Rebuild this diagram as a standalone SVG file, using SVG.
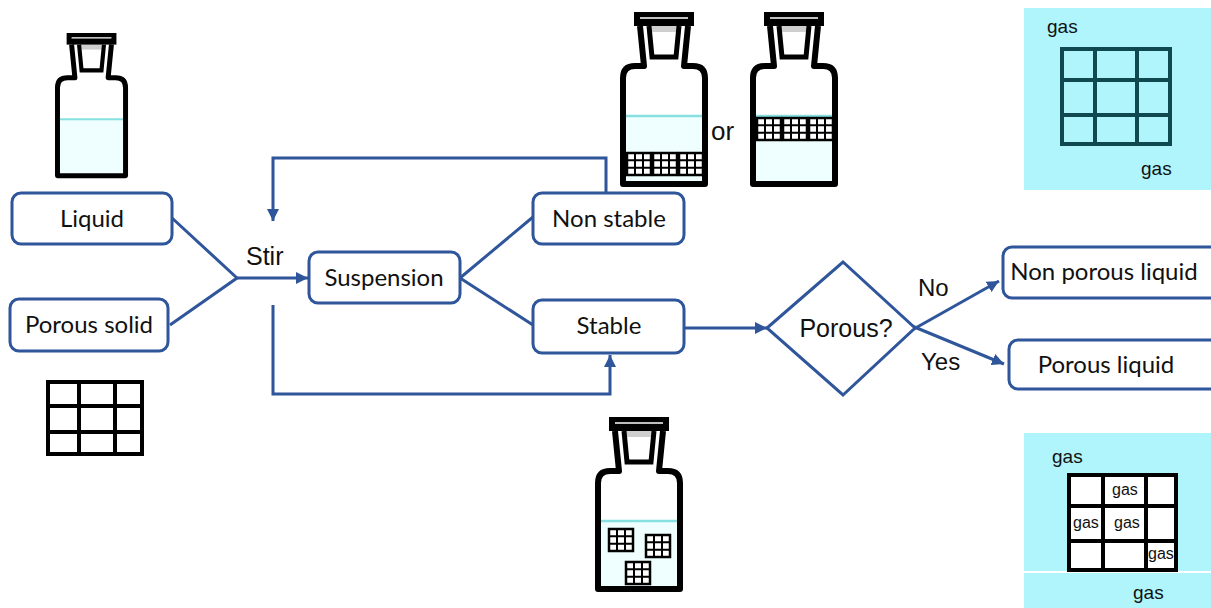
<svg xmlns="http://www.w3.org/2000/svg" xmlns:xlink="http://www.w3.org/1999/xlink" width="1211" height="608" viewBox="0 0 1211 608">
<style>
.box{fill:#fff;stroke:#2f559a;stroke-width:3}
.lbl{font-family:Lato,"Liberation Sans",sans-serif;font-size:24px;fill:#111;text-anchor:middle}
.ar{font-family:"Liberation Sans",Arial,sans-serif;font-size:24px;fill:#111}
.gas{font-family:"Liberation Sans",Arial,sans-serif;font-size:19px;fill:#111}
.gs{font-family:"Liberation Sans",Arial,sans-serif;font-size:16px;fill:#111}
.con{fill:none;stroke:#2f559a;stroke-width:3}
.bw{fill:none;stroke:#000;stroke-width:6;stroke-linejoin:round}
</style>
<defs>
<marker id="ah" viewBox="0 0 10 10" refX="10" refY="5" markerWidth="12" markerHeight="12" markerUnits="userSpaceOnUse" orient="auto">
<path d="M0,0 L10,5 L0,10 z" fill="#2f559a"/>
</marker>
<g id="sg">
<rect x="0" y="0" width="24" height="22" fill="#fff" stroke="#000" stroke-width="2.5"/>
<path d="M8,0 V22 M16,0 V22 M0,7.3 H24 M0,14.7 H24" stroke="#000" stroke-width="2" fill="none"/>
</g>
<g id="bottle">
<rect x="6" y="104" width="76" height="65" fill="#effefe"/>
<line x1="6" y1="104" x2="82" y2="104" stroke="#86e0e0" stroke-width="2.5"/>
<path class="bw" d="M20,14 L24,54 L15,54 Q3,54 3,66 L3,172 L85,172 L85,66 Q85,54 73,54 L64,54 L68,14"/>
<rect x="30" y="14" width="28" height="6" fill="#cfcfcf"/>
<path d="M29,14 L32,45 L56,45 L59,14" fill="none" stroke="#000" stroke-width="5"/>
<rect x="14" y="0" width="60" height="14" fill="#000"/>
<line x1="20" y1="6" x2="68" y2="6" stroke="#fff" stroke-width="1.5"/>
</g>
</defs>

<!-- bottles -->
<g id="bottle-liquid"><use xlink:href="#bottle" transform="translate(55,33) scale(0.83)"/></g>
<g id="bottle-settled">
<use xlink:href="#bottle" transform="translate(620,12)"/>
<use xlink:href="#sg" x="627" y="153"/>
<use xlink:href="#sg" x="653" y="153"/>
<use xlink:href="#sg" x="679" y="153"/>
</g>
<text class="ar" x="711" y="140" style="font-size:26px">or</text>
<g id="bottle-floating">
<use xlink:href="#bottle" transform="translate(750,12)"/>
<use xlink:href="#sg" x="757" y="118"/>
<use xlink:href="#sg" x="783" y="118"/>
<use xlink:href="#sg" x="809" y="118"/>
</g>
<g id="bottle-stable">
<use xlink:href="#bottle" transform="translate(595,417)"/>
<use xlink:href="#sg" x="609" y="529"/>
<use xlink:href="#sg" x="646" y="535"/>
<use xlink:href="#sg" x="626" y="562"/>
</g>

<!-- porous solid grid -->
<g id="solid-grid">
<rect x="48" y="382" width="94" height="72" fill="#fff" stroke="#000" stroke-width="4"/>
<path d="M79,382 V454 M115,382 V454 M48,406 H142 M48,432 H142" stroke="#000" stroke-width="4" fill="none"/>
</g>

<!-- panels -->
<g id="panel-nonporous">
<rect x="1024" y="8" width="187" height="182" fill="#b0f5fc"/>
<rect x="1062" y="49" width="108" height="95" fill="none" stroke="#104850" stroke-width="4"/>
<path d="M1095,49 V144 M1137,49 V144 M1062,80 H1170 M1062,115 H1170" stroke="#104850" stroke-width="4" fill="none"/>
<text class="gas" x="1047" y="33">gas</text>
<text class="gas" x="1141" y="175">gas</text>
</g>
<g id="panel-porous">
<rect x="1024" y="433" width="187" height="138" fill="#b0f5fc"/>
<rect x="1024" y="573" width="187" height="35" fill="#b0f5fc"/>
<rect x="1069" y="475" width="107" height="95" fill="#fff" stroke="#000" stroke-width="4"/>
<path d="M1103,475 V570 M1146,475 V570 M1069,506 H1176 M1069,541 H1176" stroke="#000" stroke-width="4" fill="none"/>
<text class="gas" x="1052" y="463">gas</text>
<text class="gs" x="1112" y="495">gas</text>
<text class="gs" x="1073" y="528">gas</text>
<text class="gs" x="1114" y="528">gas</text>
<text class="gs" x="1148" y="559">gas</text>
<text class="gas" x="1133" y="599">gas</text>
</g>

<!-- connectors -->
<g id="connectors">
<path class="con" d="M172,218 L237,278 L170,325"/>
<path class="con" d="M237,278 L308,278" marker-end="url(#ah)"/>
<path class="con" d="M460,278 L533,217 M460,278 L533,325"/>
<path class="con" d="M606,193 L606,158 L273,158 L273,221" marker-end="url(#ah)"/>
<path class="con" d="M273,305 L273,394 L610,394 L610,355" marker-end="url(#ah)"/>
<path class="con" d="M684,328 L767,328" marker-end="url(#ah)"/>
<path class="con" d="M912,330 L999,281" marker-end="url(#ah)"/>
<path class="con" d="M912,326 L1004,364" marker-end="url(#ah)"/>
</g>
<text class="ar" x="246" y="265" style="font-size:25px">Stir</text>
<text class="ar" x="918" y="296">No</text>
<text class="ar" x="921" y="370">Yes</text>

<!-- nodes -->
<g id="n-liquid"><rect class="box" x="12" y="193" width="160" height="51" rx="9"/><text class="lbl" x="92" y="227">Liquid</text></g>
<g id="n-solid"><rect class="box" x="10" y="299" width="158" height="52" rx="9"/><text class="lbl" x="89" y="333">Porous solid</text></g>
<g id="n-suspension"><rect class="box" x="309" y="252" width="151" height="51" rx="9"/><text class="lbl" x="384" y="286">Suspension</text></g>
<g id="n-nonstable"><rect class="box" x="533" y="193" width="151" height="51" rx="9"/><text class="lbl" x="609" y="227">Non stable</text></g>
<g id="n-stable"><rect class="box" x="533" y="300" width="151" height="53" rx="9"/><text class="lbl" x="609" y="334">Stable</text></g>
<g id="n-porous"><path d="M767,328 L843,262 L915,328 L843,395 Z" fill="#fff" stroke="#2f559a" stroke-width="3"/><text class="ar" x="846" y="337" text-anchor="middle" style="font-size:25px">Porous?</text></g>
<g id="n-nonporous"><rect class="box" x="1003" y="247" width="220" height="51" rx="9"/><text class="lbl" x="1104" y="280">Non porous liquid</text></g>
<g id="n-porousliquid"><rect class="box" x="1009" y="340" width="220" height="49" rx="9"/><text class="lbl" x="1106" y="373">Porous liquid</text></g>
</svg>
